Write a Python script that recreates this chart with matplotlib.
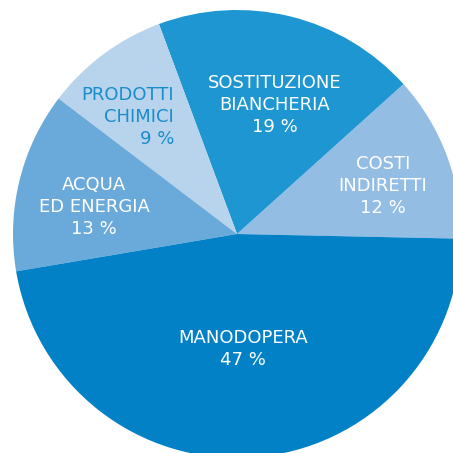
import matplotlib.pyplot as plt

# data
labels = ["COSTI\nINDIRETTI", "SOSTITUZIONE\nBIANCHERIA", "PRODOTTI\nCHIMICI",
          "ACQUA\nED ENERGIA", "MANODOPERA"]
values = [12, 19, 9, 13, 47]
colors = ["#93bde3", "#1e96d2", "#b8d3ec", "#6aaadb", "#0281c6"]
text_colors = ["white", "white", "#1a8ccc", "white", "white"]

# label anchor positions in pixels (x, y from top) and alignment
label_pos = [(383, 186), (275, 105), (174, 117), (94, 207), (243, 349)]
label_ha = ["center", "center", "right", "center", "center"]

W = 453
fig = plt.figure(figsize=(4.53, 4.53), dpi=100)
ax = fig.add_axes([0, 0, 1, 1])
ax.pie(values, colors=colors, startangle=-1.2, counterclock=True,
       center=(237, W - 234), radius=224,
       wedgeprops={"linewidth": 0})
ax.set_xlim(0, W)
ax.set_ylim(0, W)
ax.set_aspect("equal")
ax.axis("off")

for lab, v, (x, y), ha, tc in zip(labels, values, label_pos, label_ha, text_colors):
    ax.text(x, W - y, f"{lab}\n{v} %", ha=ha, va="center", color=tc,
            fontsize=13, linespacing=1.28, multialignment=ha)

fig.savefig("out.png", dpi=100)
